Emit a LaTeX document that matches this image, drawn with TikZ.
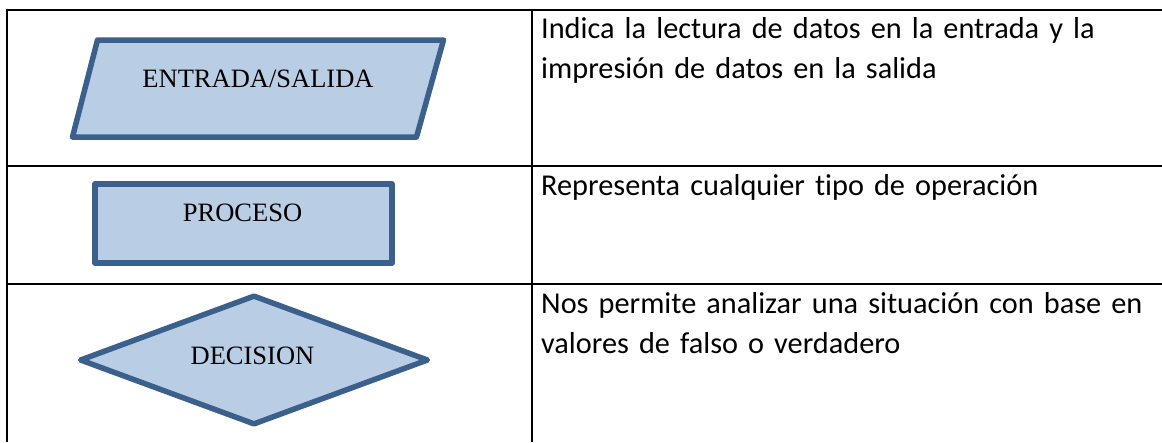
\documentclass[tikz,border=0pt]{standalone}
\usepackage{fontspec}
\setmainfont{Liberation Serif}
\newfontfamily\calibri[Ligatures=NoCommon]{Carlito}
\usetikzlibrary{shapes.geometric}
\definecolor{sym_fill}{RGB}{185, 205, 229}
\definecolor{sym_edge}{RGB}{60, 96, 140}
\tikzstyle{io}=[fill=sym_fill,draw=sym_edge,line width=5.5pt,line join=round]
\tikzstyle{proc}=[rectangle,fill=sym_fill,draw=sym_edge,line width=5.5pt,
  line join=round,inner sep=0pt,minimum width=297pt,minimum height=79pt]
\tikzstyle{dec}=[diamond,fill=sym_fill,draw=sym_edge,line width=5.5pt,
  line join=round,inner sep=1pt,minimum width=349pt,minimum height=130pt]
\tikzstyle{lbl}=[inner sep=0pt,anchor=base,font=\fontsize{26.5}{30}\selectfont]
\tikzstyle{desc}=[inner sep=0pt,anchor=base west,align=left,text width=640pt,
  font=\calibri\fontsize{30.3}{40}\selectfont]
\tikzstyle{tableline}=[line width=2.8pt]
\tikzstyle{none}=[inner sep=0pt]

\begin{document}
\begin{tikzpicture}[x=1pt, y=-1pt]
        \useasboundingbox (0, 0) rectangle (1162, 442);
        \node [style=none] (0) at (7, 10) {};
		\node [style=none] (1) at (1162, 10) {};
		\node [style=none] (2) at (7, 166) {};
		\node [style=none] (3) at (1162, 166) {};
		\node [style=none] (4) at (7, 284) {};
		\node [style=none] (5) at (1162, 284) {};
		\node [style=none] (6) at (7, 442) {};
		\node [style=none] (7) at (532, 10) {};
		\node [style=none] (8) at (532, 442) {};
		\coordinate (p1) at (97.5, 40);
		\coordinate (p2) at (443.5, 40);
		\coordinate (p3) at (416.5, 137);
		\coordinate (p4) at (72.5, 137);
		\draw [style=io] (p1) -- (p2) -- (p3) -- (p4) -- cycle;
		\node [style=proc] (10) at (243.5, 223.5) {};
		\node [style=dec] (11) at (254, 360) {};
		\node [style=lbl] (12) at (258, 87) {ENTRADA/SALIDA};
		\node [style=lbl] (13) at (242.5, 221) {PROCESO};
		\node [style=lbl] (14) at (252.5, 364) {DECISION};
		\node [style=desc] (15) at (541, 38) {Indica la lectura de datos en la entrada y la\\impresión de datos en la salida};
		\node [style=desc] (16) at (541, 195) {Representa cualquier tipo de operación};
		\node [style=desc] (17) at (541, 313) {Nos permite analizar una situación con base en\\valores de falso o verdadero};
		\draw [style=tableline] (0.center) to (1.center);
		\draw [style=tableline] (2.center) to (3.center);
		\draw [style=tableline] (4.center) to (5.center);
		\draw [style=tableline] ([yshift=1.4pt]0.center) to (6.center);
		\draw [style=tableline] (7.center) to (8.center);
    \end{tikzpicture}
\end{document}
